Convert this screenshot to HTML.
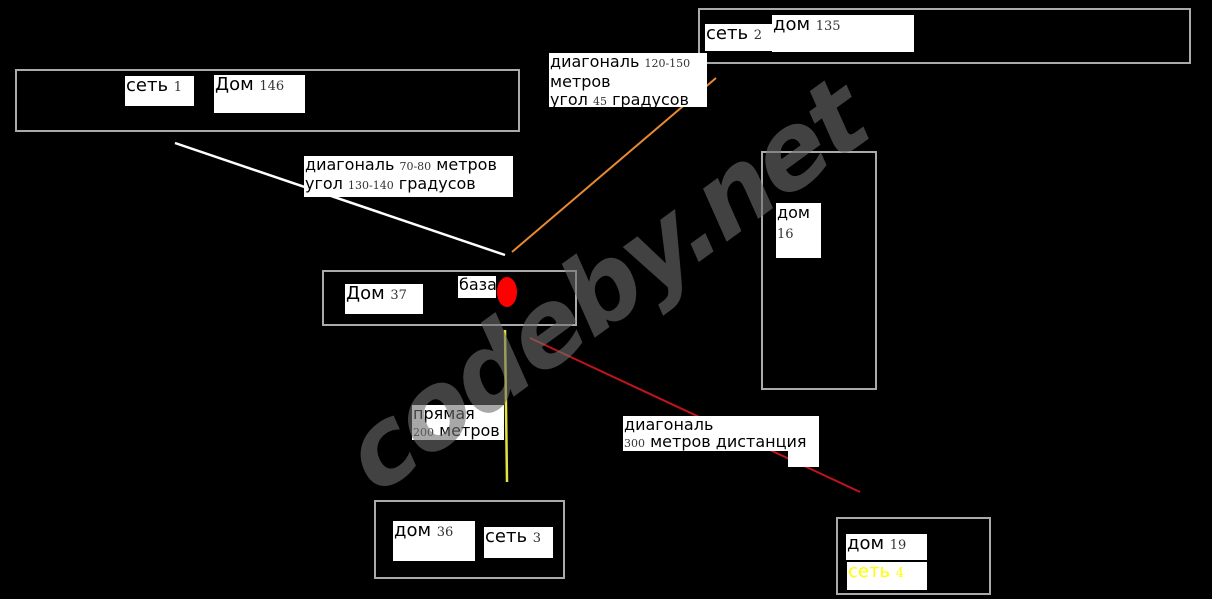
<!DOCTYPE html><html><head><meta charset="utf-8"><style>
html,body{margin:0;width:1212px;height:599px;overflow:hidden}
body{background:#000;position:relative;font-family:"DejaVu Sans","Liberation Sans",sans-serif}
.b{position:absolute;border:2px solid #aaa;box-sizing:border-box}
.l{position:absolute;background:#fff;color:#000;font-size:16px;line-height:18px;white-space:nowrap;box-sizing:border-box;padding-left:1px}
.n{font-family:"DejaVu Serif","Liberation Serif",serif;font-size:11px;color:#333}
.wm{position:absolute;left:606px;top:285px;transform:translate(-50%,-50%) rotate(-36deg) skewX(-12deg);font:bold 104px "DejaVu Sans",sans-serif;color:rgba(110,110,110,0.6);white-space:nowrap;letter-spacing:-3px}
</style></head><body>
<div class="b" style="left:15px;top:69px;width:505px;height:63px"></div>
<div class="b" style="left:698px;top:8px;width:493px;height:56px"></div>
<div class="b" style="left:322px;top:270px;width:255px;height:56px"></div>
<div class="b" style="left:761px;top:151px;width:116px;height:239px"></div>
<div class="b" style="left:374px;top:500px;width:191px;height:79px"></div>
<div class="b" style="left:836px;top:517px;width:155px;height:78px"></div>
<svg style="position:absolute;left:0;top:0" width="1212" height="599">
<line x1="175" y1="143" x2="505" y2="255" stroke="#fff" stroke-width="2.5"/>
<line x1="512" y1="252" x2="716" y2="78" stroke="#e88a30" stroke-width="2"/>
<line x1="505" y1="330" x2="507" y2="482" stroke="#e6e040" stroke-width="2.5"/>
<line x1="530" y1="338" x2="860" y2="492" stroke="#c0141c" stroke-width="2"/>
<ellipse cx="507" cy="292" rx="10" ry="15" fill="#f00"/>
</svg>
<div class="l" style="left:125px;top:76px;width:69px;height:30px;font-size:18px;line-height:20px">сеть <span class="n" style="font-size:13px">1</span></div>
<div class="l" style="left:214px;top:75px;width:91px;height:38px;font-size:18px;line-height:20px">Дом <span class="n" style="font-size:13px">146</span></div>
<div class="l" style="left:705px;top:24px;width:68px;height:27px;font-size:18px;line-height:20px">сеть <span class="n" style="font-size:13px">2</span></div>
<div class="l" style="left:772px;top:15px;width:142px;height:37px;font-size:18px;line-height:20px">дом <span class="n" style="font-size:13px">135</span></div>
<div class="l" style="left:549px;top:53px;width:158px;height:54px;line-height:18px">диагональ <span class="n">120-150</span><br>метров<br>угол <span class="n">45</span> градусов</div>
<div class="l" style="left:304px;top:156px;width:209px;height:41px;line-height:17px">диагональ <span class="n">70-80</span> метров<br>угол <span class="n">130-140</span> градусов</div>
<div class="l" style="left:345px;top:284px;width:78px;height:30px;font-size:18px;line-height:20px">Дом <span class="n" style="font-size:13px">37</span></div>
<div class="l" style="left:458px;top:276px;width:38px;height:22px">база</div>
<div class="l" style="left:776px;top:203px;width:45px;height:55px;line-height:20px">дом<br><span class="n" style="font-size:13px">16</span></div>
<div class="l" style="left:412px;top:405px;width:92px;height:35px;line-height:17px">прямая<br><span class="n">200</span> метров</div>
<div class="l" style="left:623px;top:416px;width:196px;height:35px;line-height:17px">диагональ<br><span class="n">300</span> метров дистанция</div>
<div class="l" style="left:788px;top:450px;width:31px;height:17px;padding:0"></div>
<div class="l" style="left:393px;top:521px;width:82px;height:40px;font-size:18px;line-height:20px">дом <span class="n" style="font-size:13px">36</span></div>
<div class="l" style="left:484px;top:527px;width:69px;height:31px;font-size:18px;line-height:20px">сеть <span class="n" style="font-size:13px">3</span></div>
<div class="l" style="left:846px;top:534px;width:81px;height:26px;font-size:18px;line-height:20px">дом <span class="n" style="font-size:13px">19</span></div>
<div class="l" style="left:847px;top:562px;width:80px;height:28px;font-size:18px;line-height:20px;color:#ff0">сеть <span class="n" style="font-size:13px;color:#ff0">4</span></div>
<div class="wm">codeby.net</div>
</body></html>
